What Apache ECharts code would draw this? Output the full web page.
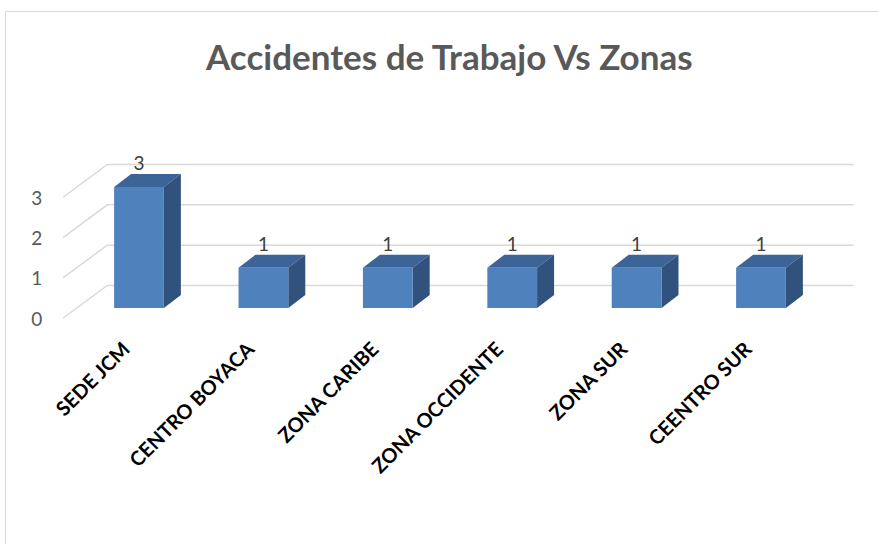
<!DOCTYPE html>
<html>
<head>
<meta charset="utf-8">
<script src="https://cdn.jsdelivr.net/npm/echarts@6/dist/echarts.min.js"></script>
<style>html,body{margin:0;padding:0;background:#fff;}#c{width:878px;height:544px;}</style>
</head>
<body>
<div id="c"></div>
<script>
const categories = ['SEDE JCM', 'CENTRO BOYACA', 'ZONA CARIBE', 'ZONA OCCIDENTE', 'ZONA SUR', 'CEENTRO SUR'];
const accidentes = [3, 1, 1, 1, 1, 1];
const yTicks = [0, 1, 2, 3];
const titleText = 'Accidentes de Trabajo Vs Zonas';

// 3D projection offsets (pixels), relative to the bar front plane
const FLOOR_DX = -13.5, FLOOR_DY = 10;   // front edge of the floor
const WALL_DX = 30.5, WALL_DY = -22.5;   // back wall
const BAR_DX = 17, BAR_DY = -13;         // bar depth

const chart = echarts.init(document.getElementById('c'), null, { renderer: 'svg' });

const barGrid = { left: 76.8, right: 54.8, top: 187, bottom: 236 };
const floorGrid = {
  left: barGrid.left + FLOOR_DX, right: barGrid.right - FLOOR_DX,
  top: barGrid.top + FLOOR_DY, bottom: barGrid.bottom - FLOOR_DY
};

const option = {
  animation: false,
  backgroundColor: '#ffffff',
  title: {
    text: titleText,
    left: 201,
    top: 33,
    textStyle: { fontFamily: 'Lato', fontWeight: 'bold', fontSize: 35, color: '#595959' }
  },
  graphic: [{
    type: 'rect', silent: true,
    shape: { x: 5.5, y: 11.5, width: 1000, height: 1000 },
    style: { fill: null, stroke: '#d9d9d9', lineWidth: 1 }
  }],
  grid: [barGrid, floorGrid],
  xAxis: [
    {
      gridIndex: 0, type: 'category', data: categories,
      axisLine: { show: false }, axisTick: { show: false }, axisLabel: { show: false }
    },
    {
      gridIndex: 1, type: 'category', data: categories,
      axisLine: { show: false }, axisTick: { show: false },
      axisLabel: {
        interval: 0, rotate: 45, margin: 27,
        fontFamily: 'Lato', fontWeight: 'bold', fontSize: 20, color: '#000000'
      }
    }
  ],
  yAxis: [
    {
      gridIndex: 0, type: 'value', min: 0, max: 3, interval: 1,
      axisLine: { show: false }, axisTick: { show: false },
      splitLine: { show: false }, axisLabel: { show: false }
    },
    {
      gridIndex: 1, type: 'value', min: 0, max: 3, interval: 1,
      axisLine: { show: false }, axisTick: { show: false },
      splitLine: { show: false },
      axisLabel: { margin: 21, fontFamily: 'Lato', fontSize: 19, color: '#595959' }
    }
  ],
  series: [
    {
      type: 'custom',
      xAxisIndex: 0, yAxisIndex: 0,
      z: 1,
      silent: true,
      data: yTicks.map(v => [0, v]),
      renderItem: function (params, api) {
        const cs = params.coordSys;
        const y = api.coord([0, api.value(1)])[1];
        return {
          type: 'polyline',
          shape: { points: [
            [cs.x + FLOOR_DX, y + FLOOR_DY],
            [cs.x + WALL_DX, y + WALL_DY],
            [cs.x + cs.width + WALL_DX, y + WALL_DY]
          ] },
          style: { stroke: '#d9d9d9', lineWidth: 1.5, fill: null }
        };
      }
    },
    {
      type: 'bar',
      xAxisIndex: 0, yAxisIndex: 0,
      z: 3,
      data: accidentes,
      barWidth: '40%',
      itemStyle: { color: '#4f81bd' },
      label: {
        show: true, position: 'top', distance: 15,
        fontFamily: 'Lato', fontSize: 19, color: '#404040'
      }
    },
    {
      type: 'custom',
      xAxisIndex: 0, yAxisIndex: 0,
      z: 2,
      silent: true,
      data: accidentes.map((v, i) => [i, v]),
      renderItem: function (params, api) {
        const i = api.value(0), v = api.value(1);
        const base = api.coord([i, 0]);
        const top = api.coord([i, v]);
        const w = api.size([1, 0])[0] * 0.4;
        const x1 = base[0] + w / 2, x0 = base[0] - w / 2;
        return {
          type: 'group',
          children: [
            { type: 'polygon', shape: { points: [[x0, top[1]], [x0 + BAR_DX, top[1] + BAR_DY], [x1 + BAR_DX, top[1] + BAR_DY], [x1, top[1]]] },
              style: { fill: '#3c6496' } },
            { type: 'polygon', shape: { points: [[x1, top[1]], [x1 + BAR_DX, top[1] + BAR_DY], [x1 + BAR_DX, base[1] + BAR_DY], [x1, base[1]]] },
              style: { fill: '#31527c' } }
          ]
        };
      }
    }
  ]
};
chart.setOption(option);
</script>
</body>
</html>
